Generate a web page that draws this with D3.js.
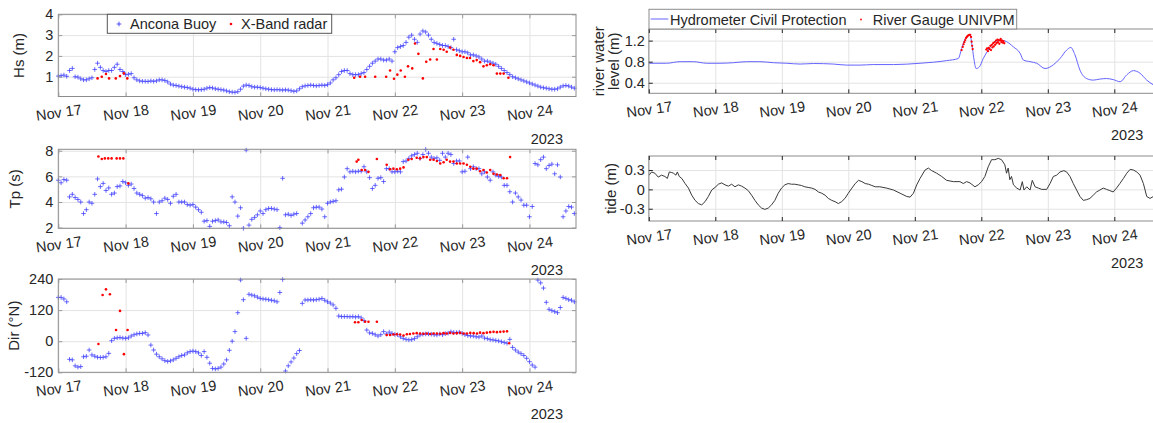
<!DOCTYPE html>
<html>
<head>
<meta charset="utf-8">
<script src="https://cdn.jsdelivr.net/npm/d3@7"></script>
<style>
body { margin: 0; background: #fff; }
</style>
</head>
<body>
<div id="chart"></div>
<script>
//== DATA ================================================//
// time is given in hours after 2023-11-17 00:00 (UTC)
// Ancona buoy, one reading per hour, starting at hour 0
var buoyHs = [
    1.03, 1.05, 1.08, 1.02, 1.3, 1.4, 1.0, 0.98, 0.9, 0.85, 0.85, 0.9, 0.95, 1.35, 1.65, 1.45, 1.3, 1.25, 1.3, 1.3, 1.45, 1.6, 1.35, 1.25,
    1.1, 1.12, 1.15, 0.95, 0.85, 0.8, 0.78, 0.78, 0.77, 0.8, 0.78, 0.8, 0.85, 0.85, 0.82, 0.75, 0.65, 0.6, 0.58, 0.55, 0.52, 0.5, 0.48, 0.45,
    0.4, 0.38, 0.37, 0.38, 0.4, 0.45, 0.48, 0.46, 0.42, 0.4, 0.38, 0.36, 0.32, 0.28, 0.26, 0.25, 0.28, 0.4, 0.55, 0.6, 0.58, 0.52, 0.5, 0.5,
    0.48, 0.45, 0.42, 0.4, 0.38, 0.37, 0.38, 0.37, 0.36, 0.37, 0.36, 0.33, 0.3, 0.32, 0.42, 0.52, 0.56, 0.58, 0.6, 0.58, 0.56, 0.58, 0.6, 0.58,
    0.62, 0.7, 0.85, 0.95, 1.1, 1.25, 1.3, 1.3, 1.15, 1.1, 1.1, 1.1, 1.15, 1.2, 1.35, 1.5, 1.65, 1.75, 1.85, 1.85, 1.8, 1.8, 1.85, 1.75,
    2.2, 2.4, 2.45, 2.5, 2.65, 2.9, 3.0, 2.8, 2.65, 3.05, 3.2, 3.15, 3.0, 2.8, 2.65, 2.6, 2.55, 2.5, 2.5, 2.45, 2.4, 2.8, 2.3, 2.25,
    2.2, 2.2, 2.15, 2.05, 2.05, 2.0, 1.95, 1.85, 1.75, 1.75, 1.7, 1.65, 1.6, 1.5, 1.4, 1.3, 1.2, 1.1, 1.0, 0.95, 0.9, 0.85, 0.8, 0.75,
    0.7, 0.65, 0.6, 0.55, 0.5, 0.47, 0.45, 0.42, 0.4, 0.4, 0.42, 0.5, 0.56, 0.58, 0.55, 0.5, 0.45
];
var buoyTp = [
    5.7, 5.5, 5.75, 5.7, 4.4, 4.6, 4.35, 4.2, 4.0, 3.1, 3.4, 4.0, 3.9, 4.6, 5.8, 5.2, 5.45, 4.9, 5.1, 4.6, 4.7, 5.2, 5.25, 5.6,
    5.5, 5.3, 5.4, 5.05, 4.7, 4.6, 4.5, 4.3, 4.35, 4.25, 4.0, 3.1, 4.0, 4.1, 4.3, 4.2, 3.9, 4.45, 4.6, 4.0, 4.0, 4.0, 3.8, 3.75,
    3.8, 3.6, 3.4, 3.2, 2.5, 2.55, 2.1, 2.5, 2.55, 2.6, 2.45, 2.45, 2.4, 2.15, 4.4, 4.0, 2.9, 3.55, 1.95, 8.05, 2.2, 2.65, 2.8, 3.0,
    3.3, 3.1, 3.4, 3.5, 3.5, 3.45, 3.4, 2.0, 5.85, 3.0, 3.05, 2.95, 3.05, 3.1, 1.85, 2.35, 2.6, 2.85, 3.1, 3.55, 3.6, 3.6, 3.45, 2.85,
    3.9, 4.0, 4.05, 4.1, 4.95, 5.0, 5.95, 6.6, 6.35, 6.4, 6.35, 6.4, 6.4, 6.75, 6.35, 5.9, 5.05, 5.3, 5.85, 5.9, 5.6, 6.6, 6.6, 6.35,
    6.35, 6.4, 6.35, 7.15, 7.2, 7.4, 7.6, 7.7, 7.8, 7.4, 7.7, 8.1, 7.8, 7.5, 7.4, 7.45, 7.25, 7.8, 7.5, 7.8, 7.7, 7.0, 7.2, 7.2,
    6.35, 6.4, 7.5, 6.6, 6.75, 6.6, 6.6, 6.2, 6.35, 5.95, 5.7, 6.35, 6.1, 6.0, 5.95, 5.3, 5.3, 4.8, 4.0, 4.7, 4.4, 4.15, 3.75, 3.75,
    2.85, 3.65, 7.0, 6.9, 7.3, 7.5, 6.6, 6.85, 6.95, 6.2, 6.9, 5.95, 2.85, 3.3, 3.65, 3.6, 3.1
];
var buoyDir = [
    169, 169, 163, 152, -70, -72, -95, -100, -98, -60, -58, -34, -53, -58, -62, -63, -62, -60, -47, 2, 11, 13, 14, 12,
    11, 13, 20, 25, 28, 30, 30, 33, 24, -15, -34, -50, -60, -68, -75, -78, -76, -72, -66, -60, -55, -53, -45, -40,
    -38, -40, -45, -55, -40, -62, -85, -105, -107, -105, -100, -88, -72, -35, 0, 37, 110, 236, 160, 11, 181, 178, 175, 170,
    165, 163, 162, 160, 158, 156, 152, 188, 238, -115, -95, -80, -65, -48, -36, 146, 159, 159, 160, 159, 160, 162, 165, 158,
    152, 147, 140, 127, 97, 95, 95, 95, 94, 95, 93, 95, 90, 80, 43, 32, 30, 25, 20, 25, 37, 28, 35, 30,
    26, 25, 17, 11, 7, 5, 6, 10, 17, 24, 27, 28, 28, 27, 25, 24, 28, 25, 29, 31, 36, 34, 33, 35,
    30, 25, 22, 20, 20, 17, 16, 20, 12, 10, 6, 5, 3, 1, -2, -5, -8, 7, -24, -34, -42, -48, -55, -66,
    -79, -92, -100, 236, 225, 205, 150, 123, 118, 114, 110, 130, 169, 165, 160, 158, 152
];

// X-Band radar, [hour, value]
var radarHs = [
    [14.0, 0.92], [15.5, 1.0], [17.0, 1.13], [18.1, 0.92], [20.5, 0.92], [22.0, 1.03], [23.4, 1.16], [24.6, 0.92],
    [105.5, 0.95], [107.6, 1.0], [109.4, 1.0], [113.0, 1.0], [116.9, 1.0], [118.3, 1.3], [119.7, 0.9], [120.9, 1.1],
    [122.1, 1.3], [123.6, 1.0], [124.7, 1.5], [126.2, 1.4], [127.2, 2.6], [128.4, 2.1], [130.0, 0.92], [131.2, 1.72],
    [132.6, 1.83], [133.8, 2.33], [135.0, 1.83], [136.2, 2.33], [137.4, 2.3], [138.5, 2.2], [139.7, 2.4], [140.9, 2.3],
    [142.1, 2.05], [143.3, 2.0], [144.5, 1.95], [145.7, 1.9], [146.8, 1.9], [148.0, 1.75], [149.2, 1.8], [150.4, 1.7],
    [151.6, 1.5], [152.8, 1.55], [154.0, 1.6], [155.2, 1.55], [156.4, 1.15], [157.6, 1.15], [158.8, 1.15], [160.5, 0.95]
];
var radarTp = [
    [14.3, 7.55], [15.5, 7.35], [16.6, 7.4], [17.8, 7.4], [19.0, 7.4], [20.8, 7.4], [22.0, 7.4], [23.2, 7.4], [25.0, 5.45],
    [106.4, 7.15], [107.0, 7.3], [108.2, 6.5], [109.4, 6.5], [110.6, 6.35], [113.6, 7.35], [117.1, 6.9], [118.3, 6.55],
    [119.5, 6.6], [120.7, 6.55], [121.9, 6.6], [123.1, 6.7], [124.8, 7.3], [126.0, 7.35], [127.8, 7.45], [129.0, 7.4],
    [130.2, 7.5], [131.4, 7.5], [132.6, 7.3], [133.8, 7.3], [135.0, 7.2], [136.2, 7.0], [137.4, 7.1], [138.5, 7.3],
    [139.7, 7.15], [140.9, 7.15], [142.1, 7.0], [143.3, 7.0], [144.5, 7.0], [145.7, 6.9], [146.9, 6.75], [148.0, 6.6],
    [149.2, 6.6], [150.4, 6.4], [151.6, 6.5], [152.8, 6.3], [154.0, 6.5], [155.2, 6.2], [156.4, 6.15], [157.6, 6.1],
    [158.8, 5.85], [160.0, 5.85], [161.1, 7.5]
];
var radarDir = [
    [14.3, -11], [15.8, 178], [17.0, 200], [18.4, 181], [20.6, 43], [22.0, 117], [23.4, -50], [24.7, 43],
    [105.8, 73], [107.0, 73], [108.2, 82], [109.4, 75], [110.6, 75], [113.6, 75],
    [117.1, 24], [118.3, 24], [119.5, 26], [120.7, 27], [121.9, 26], [123.1, 22], [124.3, 27], [125.4, 28],
    [126.6, 30], [127.8, 31], [129.0, 30], [130.2, 29], [131.4, 30], [132.6, 28], [133.8, 30], [135.0, 30],
    [136.2, 29], [137.4, 31], [138.5, 30], [139.7, 32], [140.9, 30], [142.1, 31], [143.3, 32], [144.5, 30],
    [145.7, 30], [146.9, 32], [148.1, 31], [149.3, 30], [150.4, 33], [151.6, 31], [152.8, 33], [154.0, 35],
    [155.2, 36], [156.4, 35], [157.6, 36], [158.8, 37], [160.0, 38], [160.8, -8]
];

// river water level, hydrometer (Civil Protection), [hour, m]
var riverLevel = [
    [0, 0.77], [6.4, 0.77], [11.3, 0.80], [16.1, 0.80], [20.9, 0.77], [25.7, 0.77], [30.5, 0.78], [35.3, 0.80],
    [40.1, 0.80], [45.0, 0.78], [49.8, 0.77], [54.6, 0.755], [59.4, 0.765], [66.6, 0.755], [71.4, 0.735], [76.2, 0.735],
    [81.0, 0.745], [88.3, 0.745], [97.9, 0.77], [102.7, 0.79], [107.5, 0.82], [111.7, 0.86], [112.9, 1.05], [114.7, 1.28],
    [115.9, 1.31], [116.8, 1.05], [117.4, 0.83], [118.1, 0.67], [119.3, 0.70], [120.7, 0.86], [122.5, 1.02], [124.3, 1.15],
    [126.7, 1.21], [129.1, 1.18], [131.6, 1.08], [134.0, 0.96], [135.2, 0.83], [137.6, 0.80], [140.0, 0.77], [143.0, 0.67],
    [146.0, 0.74], [148.4, 0.86], [150.8, 1.02], [152.3, 1.07], [153.8, 0.93], [155.6, 0.64], [158.0, 0.48], [160.4, 0.45],
    [162.8, 0.47], [165.2, 0.48], [167.6, 0.46], [170.1, 0.42], [172.5, 0.55], [174.9, 0.63], [177.3, 0.58], [179.7, 0.45],
    [182.1, 0.36], [184.5, 0.3]
];
// river gauge UNIVPM, [hour, m]
var riverGauge = [
    [112.9, 1.02], [113.3, 1.08], [113.6, 1.13], [113.9, 1.17], [114.2, 1.21], [114.5, 1.25], [114.8, 1.27], [115.1, 1.29],
    [115.4, 1.30], [115.7, 1.31], [116.0, 1.31], [116.3, 1.27], [116.5, 1.18], [116.7, 1.1], [116.9, 1.04],
    [121.8, 1.03], [122.1, 1.05], [122.4, 1.0], [122.7, 1.06], [123.0, 1.04], [123.3, 1.1], [123.5, 1.02], [123.8, 1.12],
    [124.0, 1.07], [124.3, 1.15], [124.5, 1.09], [124.8, 1.17], [125.0, 1.12], [125.3, 1.2], [125.5, 1.15], [125.8, 1.22],
    [126.0, 1.17], [126.3, 1.21], [126.5, 1.14], [126.8, 1.2], [127.0, 1.23], [127.3, 1.17], [127.5, 1.2], [127.8, 1.16],
    [128.0, 1.19], [128.3, 1.15]
];
// tide, [hour, m]
var tide = [
    [0.1, 0.22], [1.0, 0.27], [2.2, 0.25], [3.4, 0.19], [4.6, 0.22], [5.8, 0.20], [6.7, 0.17], [7.4, 0.27], [8.3, 0.26],
    [8.9, 0.25], [9.8, 0.22], [10.3, 0.27], [11.0, 0.20], [11.9, 0.17], [13.1, 0.09], [14.3, 0.02], [15.5, -0.09],
    [16.7, -0.17], [17.9, -0.22], [19.1, -0.24], [20.3, -0.19], [21.5, -0.11], [22.7, -0.01], [23.9, 0.03], [25.1, 0.08],
    [26.3, 0.10], [27.5, 0.07], [28.7, 0.05], [29.9, 0.08], [31.1, 0.04], [32.3, 0.07], [33.5, 0.05], [34.7, 0.02],
    [35.9, -0.02], [37.1, -0.09], [38.3, -0.17], [39.5, -0.24], [40.7, -0.29], [41.9, -0.31], [43.1, -0.29], [44.3, -0.24],
    [45.5, -0.17], [46.7, -0.06], [47.9, 0.02], [49.1, 0.07], [50.3, 0.09], [51.5, 0.08], [52.7, 0.08], [53.9, 0.07],
    [55.1, 0.06], [56.3, 0.04], [57.5, 0.03], [58.8, 0.02], [60.0, 0.0], [61.2, -0.04], [62.4, -0.06], [63.6, -0.09],
    [64.8, -0.14], [66.0, -0.17], [67.2, -0.19], [68.4, -0.22], [69.6, -0.19], [70.8, -0.14], [72.0, -0.06], [73.3, 0.02],
    [74.5, 0.09], [75.7, 0.14], [76.9, 0.12], [78.1, 0.09], [79.3, 0.08], [80.5, 0.06], [81.7, 0.04], [83.4, 0.04],
    [85.8, 0.02], [88.3, -0.01], [90.7, -0.06], [93.1, -0.11], [94.3, -0.12], [95.5, -0.06], [96.7, 0.07], [97.9, 0.17],
    [99.7, 0.30], [100.9, 0.33], [102.1, 0.29], [103.9, 0.25], [105.7, 0.20], [107.5, 0.14], [109.9, 0.12], [112.3, 0.12],
    [113.5, 0.09], [114.7, 0.12], [115.9, 0.10], [117.7, 0.04], [118.9, 0.07], [120.1, 0.12], [121.3, 0.20], [122.5, 0.35],
    [123.7, 0.46], [124.9, 0.46], [126.1, 0.48], [127.3, 0.46], [128.5, 0.38], [129.1, 0.25], [129.7, 0.33], [130.3, 0.15],
    [130.9, 0.20], [131.6, 0.07], [132.8, 0.02], [134.0, -0.01], [134.8, 0.12], [135.4, -0.01], [136.4, 0.04], [137.6, -0.01],
    [138.4, 0.14], [139.4, 0.04], [140.6, 0.02], [141.8, 0.0], [143.6, 0.0], [144.8, 0.09], [146.0, 0.20], [147.2, 0.22],
    [148.4, 0.27], [149.8, 0.29], [150.8, 0.27], [152.0, 0.20], [153.2, 0.09], [154.4, -0.01], [155.6, -0.11], [156.8, -0.17],
    [158.0, -0.16], [159.2, -0.14], [160.4, -0.09], [161.6, -0.04], [162.8, -0.01], [164.0, 0.02], [165.2, 0.0], [166.4, -0.02],
    [167.6, -0.04], [168.8, 0.02], [170.0, 0.09], [171.3, 0.17], [172.5, 0.25], [173.7, 0.31], [174.9, 0.30], [176.1, 0.27],
    [177.3, 0.22], [178.5, 0.09], [179.7, -0.11], [180.9, -0.14], [182.1, -0.11]
];

// y ticks per panel
var hsTicks = [1, 2, 3, 4];
var tpTicks = [2, 4, 6, 8];
var dirTicks = [-120, 0, 120, 240];
var riverTicks = [0.4, 0.8, 1.2];
var tideTicks = [-0.3, 0, 0.3];
var yearLabel = "2023";

//== PLOT ================================================//
var FONT = "'Liberation Sans', Arial, Helvetica, sans-serif";
var BLUE = "#3c3cff";
var RIVER = "#6464ff";
var RED = "#ff0000";
var t0 = Date.UTC(2023, 10, 17);
var hr = function (h) { return new Date(t0 + h * 3600e3); };
var endHour = 184.6;

var svg = d3.select("#chart")
    .append("svg")
    .attr("width", 1153)
    .attr("height", 423)
    .style("font-family", FONT);

var panel = function (o) {
    var g = svg.append("g").attr("transform", "translate(" + o.left + "," + o.top + ")");
    var x = d3.scaleUtc().domain([hr(0), hr(endHour)]).range([0, o.w]);
    var y = d3.scaleLinear().domain(o.yDom).range([o.h, 0]);
    var days = d3.utcDay.every(1);

    // grid
    g.append("g").attr("class", "grid")
        .attr("transform", "translate(0," + o.h + ")")
        .call(d3.axisBottom(x).ticks(days).tickSize(-o.h).tickFormat(""));
    g.append("g").attr("class", "grid")
        .call(d3.axisLeft(y).tickValues(o.yTicks).tickSize(-o.w).tickFormat(""));
    g.selectAll(".grid .domain").remove();
    g.selectAll(".grid line").attr("stroke", "#e3e3e3");

    var layer = g.append("g");

    // box
    g.append("rect")
        .attr("width", o.w)
        .attr("height", o.h)
        .attr("fill", "none")
        .attr("stroke", "#8c8c8c");

    // ticks + labels
    var xb = g.append("g").attr("class", "ax")
        .attr("transform", "translate(0," + o.h + ")")
        .call(d3.axisBottom(x).ticks(days).tickSize(-4).tickFormat(d3.utcFormat("%b %d")));
    xb.selectAll("text")
        .attr("y", 0)
        .attr("dy", "0.35em")
        .attr("transform", "translate(0,16) rotate(-8)");
    g.append("g").attr("class", "ax")
        .call(d3.axisTop(x).ticks(days).tickSize(-4).tickFormat(""));
    g.append("g").attr("class", "ax")
        .call(d3.axisLeft(y).tickValues(o.yTicks).tickSize(-4).tickPadding(o.pad).tickFormat(function (d) { return String(d); }));
    g.append("g").attr("class", "ax")
        .attr("transform", "translate(" + o.w + ",0)")
        .call(d3.axisRight(y).tickValues(o.yTicks).tickSize(-4).tickFormat(""));
    g.selectAll(".ax .domain").remove();
    g.selectAll(".ax")
        .attr("font-family", FONT)
        .attr("font-size", 14.5);
    g.selectAll(".ax line").attr("stroke", o.tickColor);
    g.selectAll(".ax text").attr("fill", "#262626");

    // year under the time axis
    g.append("text")
        .attr("x", o.w - o.yearGap)
        .attr("y", o.h + 42)
        .attr("dy", "0.35em")
        .attr("text-anchor", "end")
        .attr("font-size", 14.5)
        .attr("fill", "#262626")
        .text(yearLabel);

    // y label(s)
    o.ylab.forEach(function (l) {
        g.append("text")
            .attr("text-anchor", "middle")
            .attr("font-size", 15)
            .attr("fill", "#262626")
            .attr("transform", "translate(" + (l.x - o.left) + "," + o.h / 2 + ")rotate(-90)")
            .text(l.t);
    });

    return { g: layer, x: x, y: y, dom: o.yDom };
};

var inDom = function (p, v) { return v >= p.dom[0] && v <= p.dom[1]; };

var plusMarks = function (p, vals) {
    var data = vals.map(function (v, i) { return { h: i, v: v }; })
        .filter(function (d) { return inDom(p, d.v); });
    p.g.append("g").selectAll("path")
        .data(data)
        .join("path")
        .attr("transform", function (d) { return "translate(" + p.x(hr(d.h)) + "," + p.y(d.v) + ")"; })
        .attr("d", "M-2.3,0H2.3M0,-2.3V2.3")
        .attr("stroke", BLUE)
        .attr("stroke-opacity", 0.85)
        .attr("stroke-width", 0.9);
};

var dotMarks = function (p, pairs, r) {
    p.g.append("g").selectAll("circle")
        .data(pairs.filter(function (d) { return inDom(p, d[1]); }))
        .join("circle")
        .attr("cx", function (d) { return p.x(hr(d[0])); })
        .attr("cy", function (d) { return p.y(d[1]); })
        .attr("r", r)
        .attr("fill", RED);
};

var lineOf = function (p, pairs, color, curve) {
    p.g.append("path")
        .datum(pairs)
        .attr("fill", "none")
        .attr("stroke", color)
        .attr("stroke-width", 1)
        .attr("d", d3.line()
            .x(function (d) { return p.x(hr(d[0])); })
            .y(function (d) { return p.y(d[1]); })
            .curve(curve));
};

// left column
var L = { left: 58.3, w: 517.7, pad: 5, tickColor: "#9a9a9a", yearGap: 13 };
var pHs = panel(Object.assign({}, L, { top: 14.3, h: 82.2, yDom: [0.05, 4], yTicks: hsTicks, ylab: [{ x: 24, t: "Hs (m)" }] }));
var pTp = panel(Object.assign({}, L, { top: 149.3, h: 79, yDom: [1.95, 8.11], yTicks: tpTicks, ylab: [{ x: 19.5, t: "Tp (s)" }] }));
var pDir = panel(Object.assign({}, L, { top: 279, h: 93.3, yDom: [-120, 240], yTicks: dirTicks, ylab: [{ x: 19.3, t: "Dir (°N)" }] }));

plusMarks(pHs, buoyHs);
dotMarks(pHs, radarHs, 1.3);
plusMarks(pTp, buoyTp);
dotMarks(pTp, radarTp, 1.3);
plusMarks(pDir, buoyDir);
dotMarks(pDir, radarDir, 1.3);

// right column
var R = { left: 648.8, w: 511.5, pad: 4, tickColor: "#262626", yearGap: 17 };
var pRiv = panel(Object.assign({}, R, { top: 29, h: 64.3, yDom: [0.2, 1.42], yTicks: riverTicks,
    ylab: [{ x: 604, t: "river water" }, { x: 619, t: "level (m)" }] }));
var pTide = panel(Object.assign({}, R, { top: 156, h: 65, yDom: [-0.49, 0.517], yTicks: tideTicks, ylab: [{ x: 616, t: "tide (m)" }] }));

lineOf(pRiv, riverLevel, RIVER, d3.curveMonotoneX);
dotMarks(pRiv, riverGauge, 1.15);
lineOf(pTide, tide, "#3a3a3a", d3.curveLinear);

//-- Legends --//
var leg1 = svg.append("g");
leg1.append("rect")
    .attr("x", 107.3).attr("y", 14.3).attr("width", 224.4).attr("height", 19)
    .attr("fill", "#fff").attr("stroke", "#555");
leg1.append("path")
    .attr("d", "M116.7,24H121.3M119,21.7V26.3")
    .attr("stroke", BLUE).attr("stroke-width", 0.9);
leg1.append("text").attr("x", 130).attr("y", 24).attr("dy", "0.35em")
    .attr("font-size", 14.5).attr("fill", "#262626").text("Ancona Buoy");
leg1.append("circle").attr("cx", 231).attr("cy", 24).attr("r", 1.3).attr("fill", RED);
leg1.append("text").attr("x", 241).attr("y", 24).attr("dy", "0.35em")
    .attr("font-size", 14.5).attr("fill", "#262626").text("X-Band radar");

var leg2 = svg.append("g");
leg2.append("rect")
    .attr("x", 649).attr("y", 9.3).attr("width", 367.7).attr("height", 19.7)
    .attr("fill", "#fff").attr("stroke", "#8c8c8c");
leg2.append("path")
    .attr("d", "M650.7,19H668.3")
    .attr("fill", "none")
    .attr("stroke", RIVER).attr("stroke-width", 1);
leg2.append("text").attr("x", 670).attr("y", 19.5).attr("dy", "0.35em")
    .attr("font-size", 14.5).attr("fill", "#262626").text("Hydrometer Civil Protection");
leg2.append("circle").attr("cx", 861).attr("cy", 19.5).attr("r", 0.9).attr("fill", RED);
leg2.append("text").attr("x", 872.7).attr("y", 19.5).attr("dy", "0.35em")
    .attr("font-size", 14.5).attr("fill", "#262626").text("River Gauge UNIVPM");
</script>
</body>
</html>
